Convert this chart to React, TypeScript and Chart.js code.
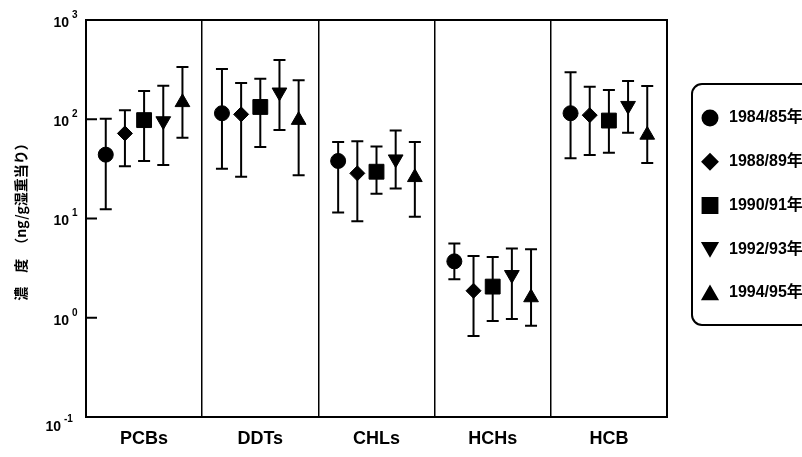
import React, { useEffect, useRef } from 'react';
import { Chart, registerables } from 'chart.js';
import { drawPoint } from 'chart.js/helpers';

Chart.register(...registerables);

// ---------- data ----------
const categories = ['PCBs', 'DDTs', 'CHLs', 'HCHs', 'HCB'];
const seriesLabels = ['1984/85年', '1988/89年', '1990/91年', '1992/93年', '1994/95年'];
const yTickExponents = [3, 2, 1, 0, -1];

const mean1984 = [44, 115, 38, 3.7, 115];
const mean1988 = [72, 112, 28.5, 1.87, 110];
const mean1990 = [98, 133, 29.6, 2.06, 97];
const mean1992 = [96, 187, 39.6, 2.71, 137];
const mean1994 = [148, 98, 26, 1.6, 69.5];

const upper1984 = [101, 321, 59, 5.6, 297];
const upper1988 = [123, 232, 60, 4.2, 213];
const upper1990 = [193, 256, 53, 4.1, 197];
const upper1992 = [218, 395, 77, 5.0, 243];
const upper1994 = [336, 247, 59, 4.9, 216];

const lower1984 = [12.4, 31.8, 11.5, 2.44, 40.4];
const lower1988 = [33.6, 26.4, 9.4, 0.655, 43.6];
const lower1990 = [37.9, 52.5, 17.8, 0.93, 46];
const lower1992 = [34.6, 78, 20.1, 0.97, 73.3];
const lower1994 = [65, 27.2, 10.4, 0.83, 36.2];

const means = [mean1984, mean1988, mean1990, mean1992, mean1994];
const uppers = [upper1984, upper1988, upper1990, upper1992, upper1994];
const lowers = [lower1984, lower1988, lower1990, lower1992, lower1994];

// ---------- styles ----------
const FONT = '"Liberation Sans", Arial, "Noto Sans CJK JP", sans-serif';
const CJK_FONT = '"Noto Sans CJK JP", "Liberation Sans", sans-serif';
const seriesOffsets = [-0.33, -0.165, 0, 0.165, 0.33];
const markerStyles = [
  { pointStyle: 'circle', radius: 7.5, rotation: 0 },
  { pointStyle: 'rectRot', radius: 7.5, rotation: 0 },
  { pointStyle: 'rect', radius: 10.5, rotation: 0 },
  { pointStyle: 'triangle', radius: 8.5, rotation: 180 },
  { pointStyle: 'triangle', radius: 8.5, rotation: 0 },
];

const decorPlugin = {
  id: 'decor',
  beforeDatasetsDraw(chart: any) {
    const { ctx, scales } = chart;
    const x = scales.x, y = scales.y;
    ctx.save();
    ctx.strokeStyle = '#000';
    ctx.lineWidth = 2;
    chart.data.datasets.forEach((ds: any) => {
      ds.data.forEach((p: any) => {
        const px = x.getPixelForValue(p.x);
        const yt = y.getPixelForValue(p.yMax);
        const yb = y.getPixelForValue(p.yMin);
        ctx.beginPath();
        ctx.moveTo(px, yt);
        ctx.lineTo(px, yb);
        ctx.moveTo(px - 6, yt);
        ctx.lineTo(px + 6, yt);
        ctx.moveTo(px - 6, yb);
        ctx.lineTo(px + 6, yb);
        ctx.stroke();
      });
    });
    ctx.restore();
  },
  afterDraw(chart: any) {
    const { ctx, chartArea, scales } = chart;
    const y = scales.y;
    ctx.save();
    // plot frame
    ctx.strokeStyle = '#000';
    ctx.lineWidth = 2;
    ctx.strokeRect(chartArea.left, chartArea.top, chartArea.right - chartArea.left, chartArea.bottom - chartArea.top);
    // inward tick marks + labels
    yTickExponents.forEach((e) => {
      const py = y.getPixelForValue(Math.pow(10, e));
      if (py > chartArea.top + 2 && py < chartArea.bottom - 2) {
        ctx.beginPath();
        ctx.moveTo(chartArea.left, py);
        ctx.lineTo(chartArea.left + 11, py);
        ctx.stroke();
      }
      const isBottom = e === -1;
      const baseRight = isBottom ? 61 : 69;
      const baseY = isBottom ? py + 10 : py + 3;
      ctx.fillStyle = '#000';
      ctx.font = `bold 14px ${FONT}`;
      ctx.textAlign = 'right';
      ctx.textBaseline = 'middle';
      ctx.fillText('10', baseRight, baseY);
      ctx.font = `bold 10px ${FONT}`;
      ctx.textAlign = 'left';
      ctx.fillText(String(e), baseRight + 3, baseY - 8);
    });
    // legend
    const lx = 692, ly = 84, lw = 140, lh = 241;
    ctx.lineWidth = 2;
    ctx.beginPath();
    ctx.roundRect(lx, ly, lw, lh, 10);
    ctx.stroke();
    chart.data.datasets.forEach((ds: any, i: number) => {
      const cy = 118 + i * 43.75;
      ctx.fillStyle = '#000';
      ctx.strokeStyle = '#000';
      const st = markerStyles[i];
      drawPoint(ctx, { pointStyle: st.pointStyle, radius: st.radius, rotation: st.rotation, borderWidth: 1 }, 710, st.pointStyle === 'triangle' ? cy + (st.rotation ? -2 : 2) : cy);
      ctx.font = `bold 16px ${FONT}`;
      ctx.textAlign = 'left';
      ctx.textBaseline = 'middle';
      ctx.fillText(ds.label, 729, cy);
    });
    ctx.restore();
  },
};

export default function App() {
  const canvasRef = useRef<HTMLCanvasElement | null>(null);

  useEffect(() => {
    const canvas = canvasRef.current;
    if (!canvas) return;
    const datasets = seriesLabels.map((label, s) => ({
      label,
      data: categories.map((_, i) => ({
        x: i + seriesOffsets[s],
        y: means[s][i],
        yMin: lowers[s][i],
        yMax: uppers[s][i],
      })),
      showLine: false,
      pointStyle: markerStyles[s].pointStyle,
      pointRadius: markerStyles[s].radius,
      pointRotation: markerStyles[s].rotation,
      pointBackgroundColor: '#000',
      pointBorderColor: '#000',
      pointBorderWidth: 1,
      backgroundColor: '#000',
      borderColor: '#000',
    }));

    const chart = new Chart(canvas, {
      type: 'scatter',
      data: { datasets: datasets as any },
      plugins: [decorPlugin as any],
      options: {
        responsive: false,
        animation: false,
        devicePixelRatio: 1,
        layout: { padding: { left: 0, top: 20, right: 135, bottom: 0 } },
        plugins: { legend: { display: false }, tooltip: { enabled: false } },
        scales: {
          x: {
            type: 'linear',
            min: -0.5,
            max: 4.5,
            afterBuildTicks: (scale: any) => {
              scale.ticks = categories.map((_, i) => ({ value: i }));
            },
            afterFit: (scale: any) => {
              scale.height = 40;
            },
            ticks: {
              callback: (v: any) => categories[Math.round(Number(v))] ?? '',
              font: { family: FONT, size: 18, weight: 'bold' },
              color: '#000',
              padding: 11,
              maxRotation: 0,
              autoSkip: false,
            },
            grid: {
              display: true,
              offset: true,
              color: '#000',
              lineWidth: 1.5,
              drawTicks: false,
            },
            border: { display: false },
          },
          y: {
            type: 'logarithmic',
            min: 0.1,
            max: 1000,
            afterFit: (scale: any) => {
              scale.width = 86;
            },
            ticks: { display: false },
            grid: { display: false },
            border: { display: false },
            title: {
              display: true,
              text: '濃　度　（ng/g湿重当り）',
              color: '#000',
              font: { family: CJK_FONT, size: 14, weight: 'bold' },
              padding: { top: 12, bottom: 0 },
            },
          },
        },
      } as any,
    });
    return () => chart.destroy();
  }, []);

  return (
    <div style={{ position: 'absolute', left: 0, top: 0, width: 802, height: 457, background: '#fff' }}>
      <canvas ref={canvasRef} width={802} height={457} style={{ display: 'block' }} />
    </div>
  );
}
